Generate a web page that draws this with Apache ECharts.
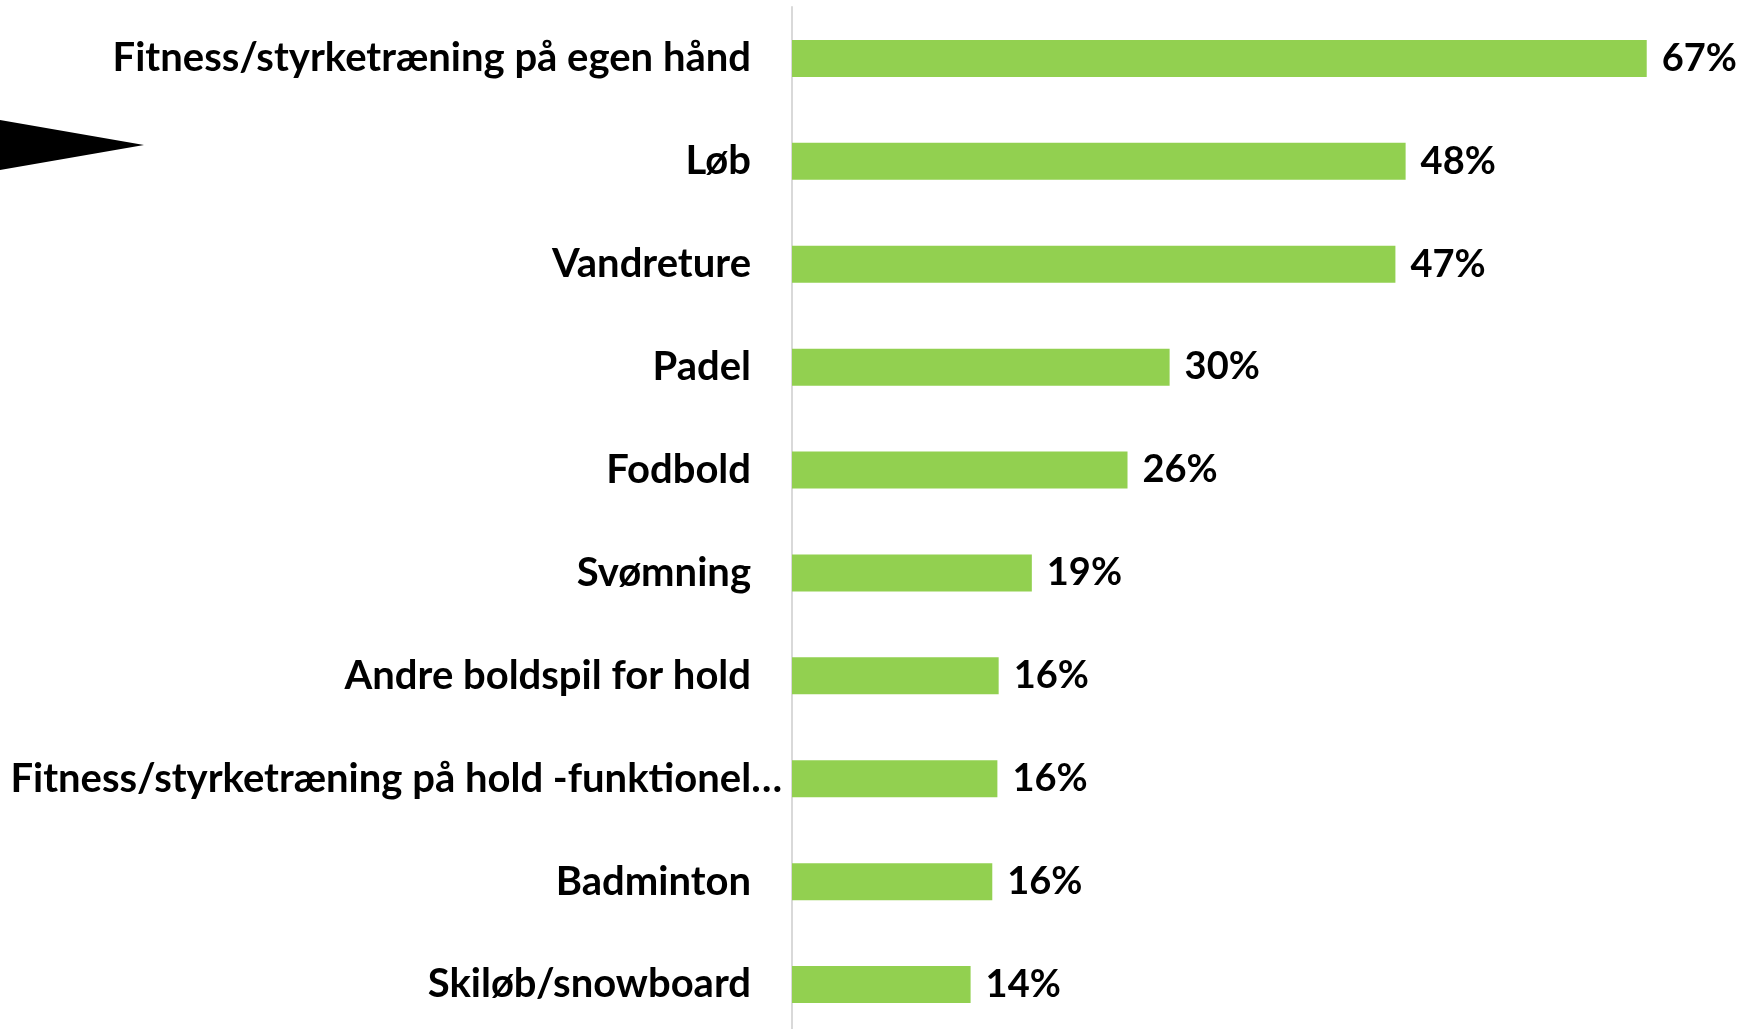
<!DOCTYPE html>
<html>
<head>
<meta charset="utf-8">
<script src="https://cdn.jsdelivr.net/npm/echarts@6/dist/echarts.min.js"></script>
<style>
  html, body { margin: 0; padding: 0; background: #fff; overflow: hidden; }
  #chart { width: 1745px; height: 1050px; }
</style>
</head>
<body>
<div id="chart"></div>
<script>
// data, top to bottom
var categories = [
  'Fitness/styrketræning på egen hånd',
  'Løb',
  'Vandreture',
  'Padel',
  'Fodbold',
  'Svømning',
  'Andre boldspil for hold',
  'Fitness/styrketræning på hold -funktionel…',
  'Badminton',
  'Skiløb/snowboard'
]
var values = [67.0, 48.1, 47.3, 29.6, 26.3, 18.8, 16.2, 16.1, 15.7, 14.0]
var longLabel = 7

var chart = echarts.init(document.getElementById('chart'))

chart.setOption({
  animation: false,
  textStyle: { fontFamily: 'Lato' },
  grid: { left: 792, top: 7, width: 893, height: 1029 },
  graphic: [{
    type: 'polygon',
    shape: { points: [[0, 120], [144, 145], [0, 170]] },
    style: { fill: '#000' }
  }],
  xAxis: {
    type: 'value',
    min: 0,
    max: 70,
    show: false
  },
  yAxis: {
    type: 'category',
    inverse: true,
    data: categories,
    axisTick: { show: false },
    axisLine: { show: true, lineStyle: { color: '#d9d9d9', width: 2 } },
    axisLabel: {
      margin: 10,
      formatter: function (v, i) {
        return (i === longLabel ? '{b|' : '{a|') + v + '}'
      },
      rich: {
        a: { fontSize: 40, fontWeight: 'bold', color: '#000', fontFamily: 'Lato', padding: [0, 31, 0, 0] },
        b: { fontSize: 40, fontWeight: 'bold', color: '#000', fontFamily: 'Lato' }
      }
    }
  },
  series: [{
    type: 'bar',
    data: values,
    barWidth: 37,
    itemStyle: { color: '#92d050' },
    label: {
      show: true,
      position: 'right',
      distance: 15,
      color: '#000',
      fontSize: 38,
      fontWeight: 'bold',
      fontFamily: 'Lato',
      formatter: function (p) { return Math.round(p.value) + '%' }
    }
  }]
})
</script>
</body>
</html>
